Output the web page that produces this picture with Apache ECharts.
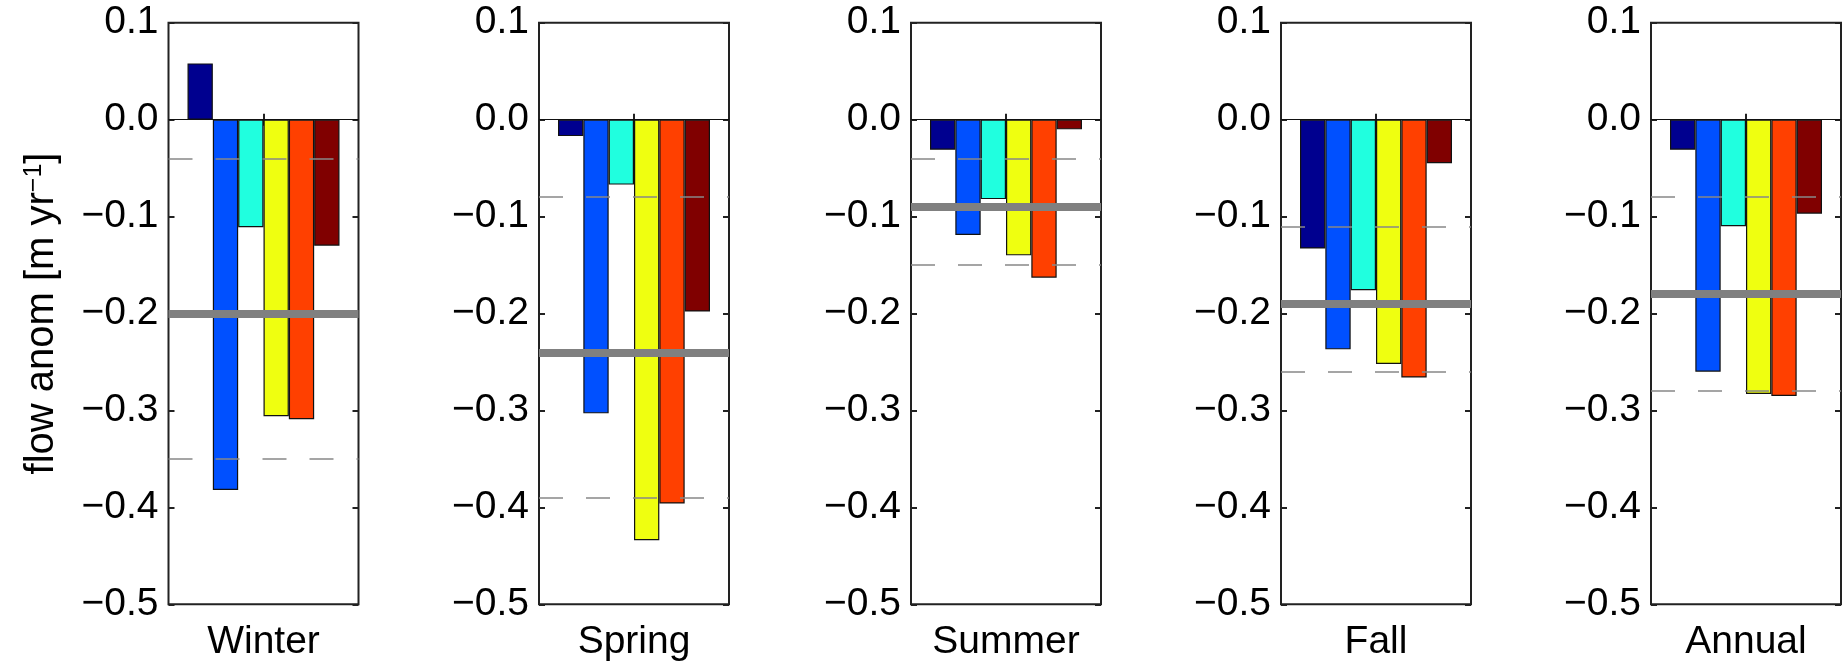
<!DOCTYPE html>
<html>
<head>
<meta charset="utf-8">
<script src="https://cdn.jsdelivr.net/npm/echarts@6/dist/echarts.min.js"></script>
<style>
html,body{margin:0;padding:0;background:#fff;}
#chart{width:1848px;height:663px;}
</style>
</head>
<body>
<div id="chart"></div>
<script>
// ---- data ----
const seasons = ['Winter', 'Spring', 'Summer', 'Fall', 'Annual'];
const barNavy   = [0.058, -0.017, -0.031, -0.133, -0.031];
const barBlue   = [-0.382, -0.303, -0.119, -0.237, -0.260];
const barCyan   = [-0.111, -0.067, -0.082, -0.176, -0.110];
const barYellow = [-0.306, -0.434, -0.140, -0.252, -0.283];
const barOrange = [-0.309, -0.396, -0.163, -0.266, -0.285];
const barDarkRed= [-0.130, -0.198, -0.010, -0.045, -0.097];
const meanLine  = [-0.196, -0.238, -0.090, -0.186, -0.177];
const dashUpper = [-0.045, -0.080, -0.035, -0.107, -0.076];
const dashLower = [-0.347, -0.393, -0.146, -0.262, -0.279];
const yMin = -0.5, yMax = 0.1, yStep = 0.1;

const barSets = [barNavy, barBlue, barCyan, barYellow, barOrange, barDarkRed];
const barColors = ['#00008F', '#0050FF', '#20FFDF', '#EFFF10', '#FF4000', '#800000'];

// ---- layout ----
const FONT = "'Liberation Sans', Arial, sans-serif";
const FS = 39;
const gridLefts = [168.5, 539, 911, 1281, 1651];
const gridW = 190, gridTop = 22.7, gridH = 581.6;

const fmtY = v => {
  const s = Math.abs(v).toFixed(1);
  return v < -1e-9 ? '\u2212' + s : s;
};

const grids = [], xAxes = [], yAxes = [], series = [];

seasons.forEach((s, g) => {
  grids.push({
    left: gridLefts[g], top: gridTop, width: gridW, height: gridH,
    show: true, borderColor: '#222', borderWidth: 2, backgroundColor: 'transparent'
  });
});
// bottom x axes
seasons.forEach((s, g) => {
  xAxes.push({
    type: 'category', gridIndex: g, data: [s], position: 'bottom',
    axisLine: { show: false },
    axisTick: { show: true, inside: true, alignWithLabel: true, length: 6, lineStyle: { color: '#222', width: 2 } },
    axisLabel: { show: true, color: '#000', fontSize: FS, fontFamily: FONT, margin: 18 },
    splitLine: { show: false }
  });
});
// top x axes (ticks only)
seasons.forEach((s, g) => {
  xAxes.push({
    type: 'category', gridIndex: g, data: [s], position: 'top',
    axisLine: { show: false },
    axisTick: { show: true, inside: true, alignWithLabel: true, length: 6, lineStyle: { color: '#222', width: 2 } },
    axisLabel: { show: false },
    splitLine: { show: false }
  });
});
// left y axes
seasons.forEach((s, g) => {
  const ax = {
    type: 'value', gridIndex: g, min: yMin, max: yMax, interval: yStep, position: 'left',
    axisLine: { show: false },
    axisTick: { show: true, inside: true, length: 6, lineStyle: { color: '#222', width: 2 } },
    axisLabel: { show: true, color: '#000', fontSize: FS, fontFamily: FONT, margin: 10, formatter: fmtY },
    splitLine: { show: false }
  };
  if (g === 0) {
    ax.name = '{a|flow anom [m yr}{sup|\u22121}{a|]}';
    ax.nameLocation = 'middle';
    ax.nameRotate = 90;
    ax.nameGap = 106;
    ax.nameTextStyle = {
      color: '#000', fontFamily: FONT, fontSize: 40,
      rich: {
        a: { fontSize: 40, fontFamily: FONT, color: '#000', lineHeight: 40, verticalAlign: 'bottom' },
        sup: { fontSize: 25, fontFamily: FONT, color: '#000', lineHeight: 25, verticalAlign: 'top', padding: [0, 0, 31, 0] }
      }
    };
  }
  yAxes.push(ax);
});
// right y axes (ticks only)
seasons.forEach((s, g) => {
  yAxes.push({
    type: 'value', gridIndex: g, min: yMin, max: yMax, interval: yStep, position: 'right',
    axisLine: { show: false },
    axisTick: { show: true, inside: true, length: 6, lineStyle: { color: '#222', width: 2 } },
    axisLabel: { show: false },
    splitLine: { show: false }
  });
});

seasons.forEach((s, g) => {
  barSets.forEach((arr, k) => {
    const ser = {
      type: 'bar', xAxisIndex: g, yAxisIndex: g,
      data: [arr[g]],
      barGap: '0%', barCategoryGap: '20%',
      itemStyle: { color: barColors[k], borderColor: '#111', borderWidth: 1.2 },
      silent: true, animation: false
    };
    if (k === barSets.length - 1) {
      ser.markLine = {
        silent: true, symbol: ['none', 'none'], animation: false,
        label: { show: false },
        data: [
          { yAxis: 0, lineStyle: { color: '#111', width: 1.2, type: 'solid' } },
          { yAxis: dashUpper[g], lineStyle: { color: '#888', width: 1.6, type: [24, 23] } },
          { yAxis: dashLower[g], lineStyle: { color: '#888', width: 1.6, type: [24, 23] } },
          { yAxis: meanLine[g], lineStyle: { color: '#808080', width: 8, type: 'solid' } }
        ]
      };
    }
    series.push(ser);
  });
});

const chart = echarts.init(document.getElementById('chart'), null, { renderer: 'canvas' });
chart.setOption({
  backgroundColor: '#fff',
  animation: false,
  textStyle: { fontFamily: FONT },
  grid: grids, xAxis: xAxes, yAxis: yAxes, series: series
});
</script>
</body>
</html>
